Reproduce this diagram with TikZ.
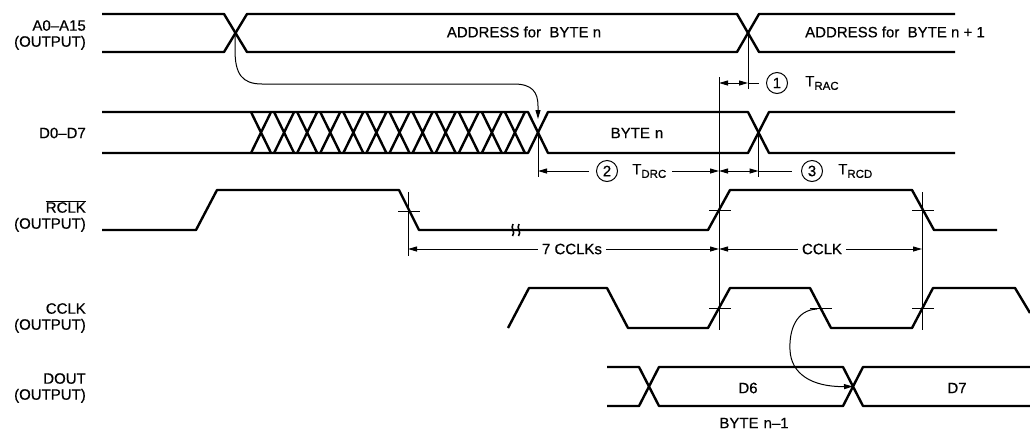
\documentclass[tikz,border=0pt]{standalone}
\usepackage{fontspec}
\setmainfont{Liberation Sans}[BoldFont=Liberation Sans, BoldFeatures={FakeBold=0.6}]
\usetikzlibrary{arrows.meta}
\newcommand{\Tsub}[1]{T\raisebox{-3.5pt}{\fontsize{11.5}{11.5}\selectfont #1}}
\begin{document}
\begin{tikzpicture}[x=1pt,y=-1pt,
  sig/.style={line width=2.4pt, line join=round},
  thinl/.style={line width=1pt},
  tipend/.style={-{Triangle[length=9pt,width=5pt]}},
  tipboth/.style={{Triangle[length=9pt,width=5pt]}-{Triangle[length=9pt,width=5pt]}},
  lbl/.style={font=\fontsize{15}{16}\selectfont\bfseries, inner sep=0pt},
  rowlbl/.style={lbl, anchor=east, align=right},
  dimlbl/.style={lbl, fill=white, inner xsep=4pt, inner ysep=2pt},
  num/.style={draw, circle, line width=1pt, minimum size=21pt, inner sep=0pt, font=\fontsize{15}{16}\selectfont\bfseries},
  brk/.style={line width=1.6pt}
  ]
\useasboundingbox (0,0) rectangle (1030,432);

% ---------- row labels ----------
\node[rowlbl] (lA) at (86,35) {A0–A15\\(OUTPUT)};
\node[rowlbl] (lD) at (86,133) {D0–D7};
\node[rowlbl] (lR) at (86,216) {$\overline{\mbox{\bfseries RCLK}}$\\(OUTPUT)};
\node[rowlbl] (lC) at (86,318) {CCLK\\(OUTPUT)};
\node[rowlbl] (lO) at (86,388) {DOUT\\(OUTPUT)};

% ---------- key points ----------
\coordinate (ax1) at (235,33);
\coordinate (ax2) at (748,33);
\coordinate (dx1) at (538,133);
\coordinate (dx2) at (758.5,133);
\coordinate (ox2) at (853,386.5);
\coordinate (cf) at (817,309);

% ---------- A0-A15 ----------
\draw[sig] (102,14) -- (224,14) -- (247,52) -- (737,52) -- (759,14) -- (955,14);
\draw[sig] (102,52) -- (224,52) -- (247,14) -- (737,14) -- (759,52) -- (955,52);
\node[lbl] (tA1) at (524,32) {ADDRESS for\ \ BYTE n};
\node[lbl] (tA2) at (895,32) {ADDRESS for\ \ BYTE n + 1};

% ---------- D0-D7 ----------
\draw[sig] (102,112) -- (528,112) -- (548,153) -- (748,153) -- (769,112) -- (955,112);
\draw[sig] (102,153) -- (528,153) -- (548,112) -- (748,112) -- (769,153) -- (955,153);
\foreach \i in {0,...,11}{
  \pgfmathsetmacro\c{261+23.083*\i}
  \draw[sig] ({\c-10},112) -- ({\c+10},153) ({\c-10},153) -- ({\c+10},112);
}
\node[lbl] (tD) at (637,133) {BYTE\hspace{5pt}n};

% ---------- RCLK ----------
\draw[sig] (102,230) -- (196,230) -- (217,190) -- (399,190) -- (419,230) -- (708,230) -- (730,190) -- (912,190) -- (934,230) -- (997,230);
\draw[brk] (513,224) .. controls (510,228) and (516,232) .. (512.5,236);
\draw[brk] (519,224) .. controls (516,228) and (522,232) .. (518.5,236);

% ---------- CCLK ----------
\draw[sig] (508,328) -- (529,288) -- (607,288) -- (628,328) -- (708,328) -- (730,288) -- (810,288) -- (831,328) -- (912,328) -- (933,288) -- (1015,288) -- (1030,313);

% ---------- DOUT ----------
\draw[sig] (607,367) -- (639,367) -- (659,406) -- (843,406) -- (863,367) -- (1030,367);
\draw[sig] (607,406) -- (639,406) -- (659,367) -- (843,367) -- (863,406) -- (1030,406);
\node[lbl] (tD6) at (748,388) {D6};
\node[lbl] (tD7) at (957,388) {D7};
\node[lbl] (tB) at (754,423) {BYTE\hspace{5pt}n–1};

% ---------- ticks ----------
\draw[thinl] (398,211) -- (420,211);
\draw[thinl] (709,210) -- (731,210);
\draw[thinl] (912,210) -- (934,210);
\draw[thinl] (709,308) -- (731,308);
\draw[thinl] (810,308) -- (832,308);
\draw[thinl] (912,308) -- (934,308);

% ---------- reference verticals ----------
\draw[thinl] (ax2) -- (748,89);
\draw[thinl] (719,77) -- (719,330);
\draw[thinl] (dx1) -- (538,177);
\draw[thinl] (dx2) -- (758.5,177);
\draw[thinl] (408,192) -- (408,256);
\draw[thinl] (922,192) -- (922,330);

% ---------- causal arrows ----------
\draw[thinl, tipend] (ax1) -- (235,50) .. controls (235,74) and (242,84) .. (262,84) -- (514,84) .. controls (532,84) and (538,92) .. (538,106) -- (538,119);
\draw[thinl, tipend] (cf) .. controls (796,310) and (789,330) .. (790,350) .. controls (791,374) and (812,387) .. (ox2);

% ---------- T_RAC ----------
\node[num] (c1) at (777,83) {1};
\node[lbl, anchor=west] (tRAC) at (805,83) {\Tsub{RAC}};
\draw[thinl, tipboth] (719,83) -- (748,83);
\draw[thinl] (748,83) -- ([xshift=-7pt]c1.west);

% ---------- T_DRC ----------
\node[num] (c2) at (607,171) {2};
\node[lbl, anchor=west] (tDRC) at (632,171) {\Tsub{DRC}};
\draw[thinl, tipend] ([xshift=-7pt]c2.west) -- (538,171);
\draw[thinl, tipend] ([xshift=6pt]tDRC.east) -- (719,171);

% ---------- T_RCD ----------
\node[num] (c3) at (812,171) {3};
\node[lbl, anchor=west] (tRCD) at (838,171) {\Tsub{RCD}};
\draw[thinl, tipboth] (719,171) -- (758.5,171);
\draw[thinl] (758.5,171) -- ([xshift=-9pt]c3.west);

% ---------- 7 CCLKs / CCLK ----------
\draw[thinl, tipboth] (408,249) -- (719,249);
\node[dimlbl] (t7) at (572,249) {7 CCLKs};
\draw[thinl, tipboth] (719,249) -- (922,249);
\node[dimlbl] (tC) at (822,249) {CCLK};
\end{tikzpicture}
\end{document}
